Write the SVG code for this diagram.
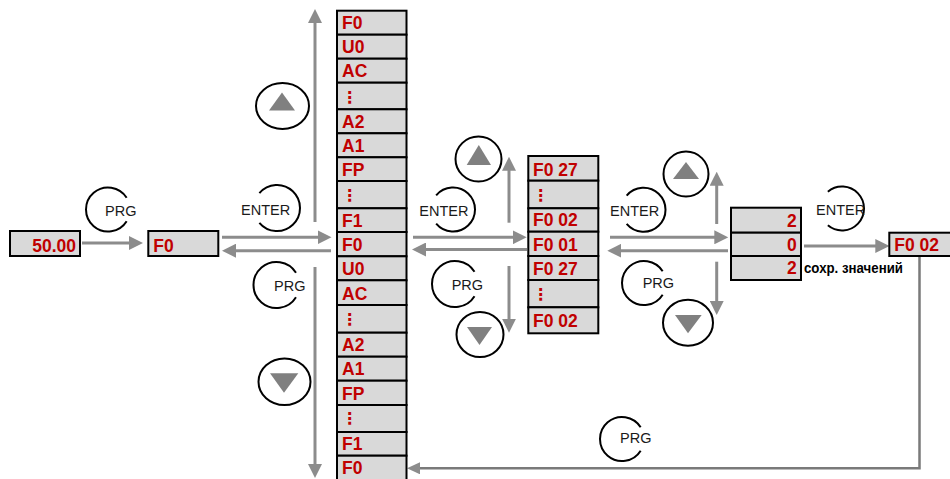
<svg xmlns="http://www.w3.org/2000/svg" width="950" height="479" viewBox="0 0 950 479">
<defs>
<style>
.box{fill:#d9d9d9;stroke:#000;stroke-width:2}
.v{font-family:"Liberation Sans",Arial,sans-serif;font-weight:bold;font-size:17.5px;fill:#c00000}
.dots{font-family:"DejaVu Sans",sans-serif;font-weight:bold;font-size:16px;fill:#c00000}
.lbl{font-family:"Liberation Sans",Arial,sans-serif;font-size:14.5px;fill:#1a1a1a}
.ring{fill:none;stroke:#000;stroke-width:2}
.tri{fill:#808080}
.arr{stroke:#8c8c8c;stroke-width:3;fill:none;marker-end:url(#ah)}
.ret{stroke:#7a7a7a;stroke-width:2.5;fill:none;marker-end:url(#ah2)}
.note{font-family:"Liberation Sans",Arial,sans-serif;font-weight:bold;font-size:14.5px;fill:#000}
</style>
<marker id="ah" viewBox="0 0 14 14" refX="2" refY="7" markerWidth="14" markerHeight="14" markerUnits="userSpaceOnUse" orient="auto"><path d="M0,0 L14,7 L0,14 z" fill="#8c8c8c"/></marker>
<marker id="ah2" viewBox="0 0 13 12" refX="2" refY="6" markerWidth="13" markerHeight="12" markerUnits="userSpaceOnUse" orient="auto"><path d="M0,0 L13,6 L0,12 z" fill="#8c8c8c"/></marker>
</defs>
<rect width="950" height="479" fill="#fff"/>

<g id="connectors">
<line class="arr" x1="82" y1="243" x2="131" y2="243"/>
<line class="arr" x1="222" y1="237.3" x2="319.5" y2="237.3"/>
<line class="arr" x1="331" y1="250.7" x2="234" y2="250.7"/>
<line class="arr" x1="315" y1="222" x2="315" y2="21"/>
<line class="arr" x1="315" y1="267" x2="315" y2="466"/>
<line class="arr" x1="413" y1="237.3" x2="514.7" y2="237.3"/>
<line class="arr" x1="527" y1="249.5" x2="424" y2="249.5"/>
<line class="arr" x1="509" y1="222.7" x2="509" y2="168.7"/>
<line class="arr" x1="509" y1="266" x2="509" y2="320.7"/>
<line class="arr" x1="610" y1="237.3" x2="716.3" y2="237.3"/>
<line class="arr" x1="728" y1="250.7" x2="619.3" y2="250.7"/>
<line class="arr" x1="716.7" y1="224" x2="716.7" y2="183.7"/>
<line class="arr" x1="716.7" y1="261.7" x2="716.7" y2="303"/>
<line class="arr" x1="804" y1="246" x2="877.3" y2="246"/>
<path class="ret" d="M919.5,256 V468.3 H418"/>
</g>

<g id="n-5000">
<rect class="box" x="10" y="231" width="70" height="25"/>
<text class="v" x="76" y="251.5" text-anchor="end">50.00</text>
</g>
<g id="n-f0">
<rect class="box" x="148.3" y="231" width="70" height="25"/>
<text class="v" x="153.3" y="251.5">F0</text>
</g>

<g id="n-groups">
<rect class="box" x="337" y="10.7" width="69.5" height="24"/><text class="v" x="342" y="29.3">F0</text>
<rect class="box" x="337" y="34.7" width="69.5" height="24"/><text class="v" x="342" y="53.2">U0</text>
<rect class="box" x="337" y="58.7" width="69.5" height="24"/><text class="v" x="342" y="77.2">AC</text>
<rect class="box" x="337" y="82.7" width="69.5" height="26.6"/><text class="dots" x="341.5" y="102.5">⋮</text>
<rect class="box" x="337" y="109.3" width="69.5" height="24"/><text class="v" x="342" y="127.8">A2</text>
<rect class="box" x="337" y="133.3" width="69.5" height="24"/><text class="v" x="342" y="151.8">A1</text>
<rect class="box" x="337" y="157.3" width="69.5" height="23.7"/><text class="v" x="342" y="175.5">FP</text>
<rect class="box" x="337" y="181" width="69.5" height="27.3"/><text class="dots" x="341.5" y="200.5">⋮</text>
<rect class="box" x="337" y="208.3" width="69.5" height="23.7"/><text class="v" x="342" y="226.5">F1</text>
<rect class="box" x="337" y="232" width="69.5" height="24.3"/><text class="v" x="342" y="250.8">F0</text>
<rect class="box" x="337" y="256.3" width="69.5" height="24"/><text class="v" x="342" y="274.8">U0</text>
<rect class="box" x="337" y="280.3" width="69.5" height="24.7"/><text class="v" x="342" y="299.5">AC</text>
<rect class="box" x="337" y="305" width="69.5" height="27.7"/><text class="dots" x="341.5" y="324.5">⋮</text>
<rect class="box" x="337" y="332.7" width="69.5" height="24"/><text class="v" x="342" y="351.2">A2</text>
<rect class="box" x="337" y="356.7" width="69.5" height="24"/><text class="v" x="342" y="375.2">A1</text>
<rect class="box" x="337" y="380.7" width="69.5" height="24.3"/><text class="v" x="342" y="399.5">FP</text>
<rect class="box" x="337" y="405" width="69.5" height="27"/><text class="dots" x="341.5" y="424">⋮</text>
<rect class="box" x="337" y="432" width="69.5" height="23.7"/><text class="v" x="342" y="450.2">F1</text>
<rect class="box" x="337" y="455.7" width="69.5" height="24.3"/><text class="v" x="342" y="474.3">F0</text>
</g>

<g id="n-params">
<rect class="box" x="528.3" y="156" width="70" height="24.7"/><text class="v" x="533" y="176.2">F0 27</text>
<rect class="box" x="528.3" y="180.7" width="70" height="27.6"/><text class="dots" x="532.5" y="200.5">⋮</text>
<rect class="box" x="528.3" y="208.3" width="70" height="23.4"/><text class="v" x="533" y="226.2">F0 02</text>
<rect class="box" x="528.3" y="231.7" width="70" height="24.3"/><text class="v" x="533" y="250.5">F0 01</text>
<rect class="box" x="528.3" y="256" width="70" height="24"/><text class="v" x="533" y="274.5">F0 27</text>
<rect class="box" x="528.3" y="280" width="70" height="27.3"/><text class="dots" x="532.5" y="299.5">⋮</text>
<rect class="box" x="528.3" y="307.3" width="70" height="26"/><text class="v" x="533" y="327">F0 02</text>
</g>

<g id="n-value">
<rect class="box" x="731" y="207.7" width="70" height="25"/><text class="v" x="796.7" y="227.3" text-anchor="end">2</text>
<rect class="box" x="731" y="232.7" width="70" height="23.3"/><text class="v" x="796.7" y="250.7" text-anchor="end">0</text>
<rect class="box" x="731" y="256" width="70" height="24"/><text class="v" x="796.7" y="274" text-anchor="end">2</text>
<text class="note" x="804" y="272.7" textLength="99" lengthAdjust="spacingAndGlyphs">сохр. значений</text>
</g>

<g id="n-f002">
<rect class="box" x="889.3" y="232.7" width="70" height="23.3"/>
<text class="v" x="894.3" y="250.7">F0 02</text>
</g>

<g id="btn-prg1"><path class="ring" d="M126.66,221.16 A22,22 0 1 1 126.66,197.84"/><text class="lbl" x="105" y="215.7">PRG</text></g>
<g id="btn-enter1"><path class="ring" d="M259.38,193.22 A23,23 0 1 1 259.38,222.78"/><text class="lbl" x="241" y="215">ENTER</text></g>
<g id="btn-prg2"><path class="ring" d="M296,297.19 A23,23 0 1 1 296,272.81"/><text class="lbl" x="274" y="290.7">PRG</text></g>
<g id="btn-up1"><ellipse class="ring" cx="282.5" cy="106" rx="26.5" ry="23"/><polygon class="tri" points="282,92.5 269,110.5 295,110.5"/></g>
<g id="btn-down1"><ellipse class="ring" cx="284.5" cy="381.7" rx="26" ry="23.3"/><polygon class="tri" points="270,373.3 298.3,373.3 284,392.7"/></g>

<g id="btn-enter2"><path class="ring" d="M436.15,195.36 A22,22 0 1 1 436.15,223.64"/><text class="lbl" x="419.3" y="216">ENTER</text></g>
<g id="btn-prg3"><path class="ring" d="M474.5,296.19 A23,23 0 1 1 474.5,271.81"/><text class="lbl" x="451.7" y="290">PRG</text></g>
<g id="btn-up2"><ellipse class="ring" cx="478.5" cy="159" rx="23" ry="22.5"/><polygon class="tri" points="478.8,145 466.7,165 491,165"/></g>
<g id="btn-down2"><ellipse class="ring" cx="480" cy="334.5" rx="23.5" ry="22.5"/><polygon class="tri" points="467,327 492,327 479.5,345"/></g>

<g id="btn-enter3"><path class="ring" d="M626.65,195.66 A22,22 0 1 1 626.65,223.94"/><text class="lbl" x="610" y="216">ENTER</text></g>
<g id="btn-prg4"><path class="ring" d="M662.66,294.66 A22,22 0 1 1 662.66,271.34"/><text class="lbl" x="642.7" y="288.3">PRG</text></g>
<g id="btn-up3"><ellipse class="ring" cx="686" cy="174" rx="22.5" ry="22.5"/><polygon class="tri" points="686,162 673,179 699,179"/></g>
<g id="btn-down3"><ellipse class="ring" cx="688" cy="322.7" rx="25" ry="23"/><polygon class="tri" points="675,315 701.7,315 688,333.3"/></g>

<g id="btn-enter4"><path class="ring" d="M827.86,191.65 A22,22 0 1 1 827.86,225.35"/><text class="lbl" x="816" y="215">ENTER</text></g>
<g id="btn-prg5"><path class="ring" d="M640.66,450.66 A22,22 0 1 1 640.66,427.34"/><text class="lbl" x="620" y="443.3">PRG</text></g>
</svg>
